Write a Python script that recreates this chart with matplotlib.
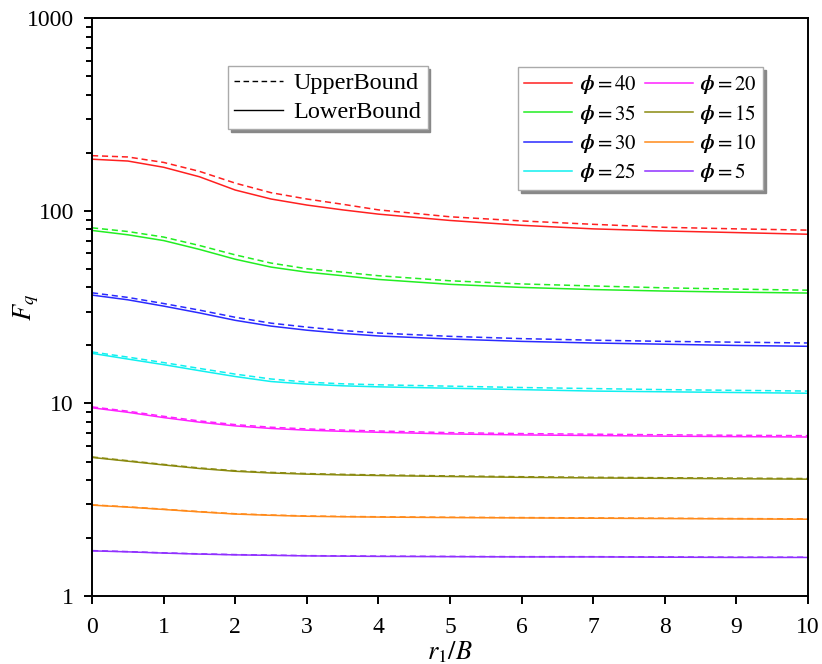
import matplotlib
matplotlib.use("Agg")
import matplotlib.pyplot as plt
from matplotlib.lines import Line2D
from matplotlib.ticker import LogLocator, NullFormatter

plt.rcParams['font.family'] = ['Liberation Serif', 'DejaVu Serif']
plt.rcParams['mathtext.fontset'] = 'stix'

r = [0, 0.5, 1, 1.5, 2, 2.5, 3, 3.5, 4, 5, 6, 7, 8, 9, 10]

phis = [40, 35, 30, 25, 20, 15, 10, 5]
colors = ['#ff2020', '#22ee22', '#2a2aff', '#10f0f0',
          '#ff20ff', '#8a8a10', '#ff8a1a', '#9030ff']

# lower bound values
low_40 = [185, 181, 168, 150, 128, 115, 107, 101, 96, 89, 84, 80.5, 78.5, 77, 75.5]
low_35 = [79, 75, 70, 63, 56, 51, 48, 46, 44, 41.5, 40, 39, 38.3, 37.8, 37.4]
low_30 = [36.5, 34.5, 32, 29.5, 27, 25.2, 24, 23.1, 22.4, 21.6, 21.0, 20.6, 20.3, 20.0, 19.8]
low_25 = [18.2, 17.0, 15.9, 14.8, 13.8, 13.0, 12.6, 12.35, 12.2, 12.0, 11.8, 11.6, 11.5, 11.4, 11.3]
low_20 = [9.5, 9.0, 8.45, 8.0, 7.65, 7.42, 7.27, 7.17, 7.09, 6.95, 6.87, 6.82, 6.77, 6.73, 6.7]
low_15 = [5.25, 5.02, 4.80, 4.60, 4.45, 4.36, 4.30, 4.26, 4.23, 4.18, 4.14, 4.11, 4.09, 4.07, 4.05]
low_10 = [2.97, 2.90, 2.82, 2.74, 2.67, 2.63, 2.60, 2.585, 2.575, 2.56, 2.55, 2.54, 2.53, 2.52, 2.51]
low_5 = [1.72, 1.70, 1.675, 1.655, 1.64, 1.63, 1.62, 1.615, 1.61, 1.605, 1.60, 1.60, 1.595, 1.59, 1.59]

# upper bound values
up_40 = [193, 190, 178, 160, 139, 124, 115, 108, 101, 93, 88.5, 85, 82, 80.5, 79.3]
up_35 = [81.5, 78, 73, 66, 59, 53.5, 50, 48, 46, 43.3, 41.7, 40.7, 39.8, 39.2, 38.7]
up_30 = [37.5, 35.5, 33, 30.5, 28, 26.1, 24.9, 23.9, 23.2, 22.3, 21.7, 21.3, 21.0, 20.8, 20.6]
up_25 = [18.5, 17.4, 16.3, 15.2, 14.2, 13.4, 12.9, 12.65, 12.5, 12.3, 12.1, 11.95, 11.8, 11.7, 11.6]
up_20 = [9.6, 9.12, 8.58, 8.12, 7.77, 7.53, 7.38, 7.28, 7.2, 7.06, 6.98, 6.93, 6.88, 6.84, 6.81]
up_15 = [5.28, 5.05, 4.83, 4.63, 4.48, 4.39, 4.33, 4.29, 4.26, 4.21, 4.17, 4.14, 4.12, 4.10, 4.08]
up_10 = [2.98, 2.91, 2.83, 2.75, 2.68, 2.64, 2.61, 2.595, 2.585, 2.57, 2.56, 2.55, 2.54, 2.53, 2.52]
up_5 = [1.725, 1.705, 1.68, 1.66, 1.645, 1.635, 1.625, 1.62, 1.615, 1.61, 1.605, 1.605, 1.60, 1.595, 1.595]

lows = [low_40, low_35, low_30, low_25, low_20, low_15, low_10, low_5]
ups = [up_40, up_35, up_30, up_25, up_20, up_15, up_10, up_5]

fig = plt.figure(figsize=(8.22, 6.64), dpi=100)
ax = fig.add_axes([0.112, 0.102, 0.871, 0.871])

handles = []
for phi, c, lo, up in zip(phis, colors, lows, ups):
    h, = ax.plot(r, lo, '-', color=c, lw=1.1, label=r'$\boldsymbol{\phi}=%d$' % phi)
    ax.plot(r, up, '--', color=c, lw=1.1, dashes=(4, 2.5))
    handles.append(h)

ax.set_yscale('log')
ax.set_xlim(0, 10)
ax.set_ylim(1, 1000)
ax.set_xticks(range(0, 11))
ax.yaxis.set_minor_locator(LogLocator(base=10, subs=range(2, 10), numticks=10))
ax.yaxis.set_minor_formatter(NullFormatter())
ax.set_yticks([1, 10, 100, 1000])
ax.set_yticklabels(['1', '10', '100', '1000'])

for s in ax.spines.values():
    s.set_linewidth(1.4)
ax.tick_params(axis='both', which='major', direction='out', length=6, width=1.4,
               labelsize=17, top=False, right=False)
ax.tick_params(axis='x', which='major', pad=9)
ax.tick_params(axis='y', which='major', pad=7)
ax.tick_params(axis='y', which='minor', direction='out', length=4, width=1.4)

ax.set_xlabel(r'$r_{\mathit{1}}/B$', fontsize=19)
ax.xaxis.set_label_coords(0.5, -0.074)
ax.set_ylabel(r'$F_q$', fontsize=19)
ax.yaxis.set_label_coords(-0.072, 0.5)

shadow = {'color': '#888888', 'alpha': 1.0}
style_handles = [Line2D([], [], color='black', ls='--', lw=1, dashes=(4, 2.5)),
                 Line2D([], [], color='black', ls='-', lw=1)]
leg1 = ax.legend(style_handles, ['UpperBound', 'LowerBound'], loc='upper left',
                 bbox_to_anchor=(0.19, 0.917), fontsize=17.5, frameon=True, fancybox=False,
                 shadow=shadow, edgecolor='#aaaaaa', framealpha=1, handlelength=2.0,
                 borderaxespad=0, borderpad=0.25, labelspacing=0.3, handletextpad=0.45)
ax.add_artist(leg1)

ax.legend(handles, [h.get_label() for h in handles], loc='upper left',
          bbox_to_anchor=(0.595, 0.915), ncol=2, fontsize=15, frameon=True,
          fancybox=False, shadow=shadow, edgecolor='#aaaaaa', framealpha=1,
          handlelength=2.3, borderaxespad=0, borderpad=0.3, labelspacing=0.3,
          handletextpad=0.35, columnspacing=0.4)

fig.savefig('out.png', dpi=100)
